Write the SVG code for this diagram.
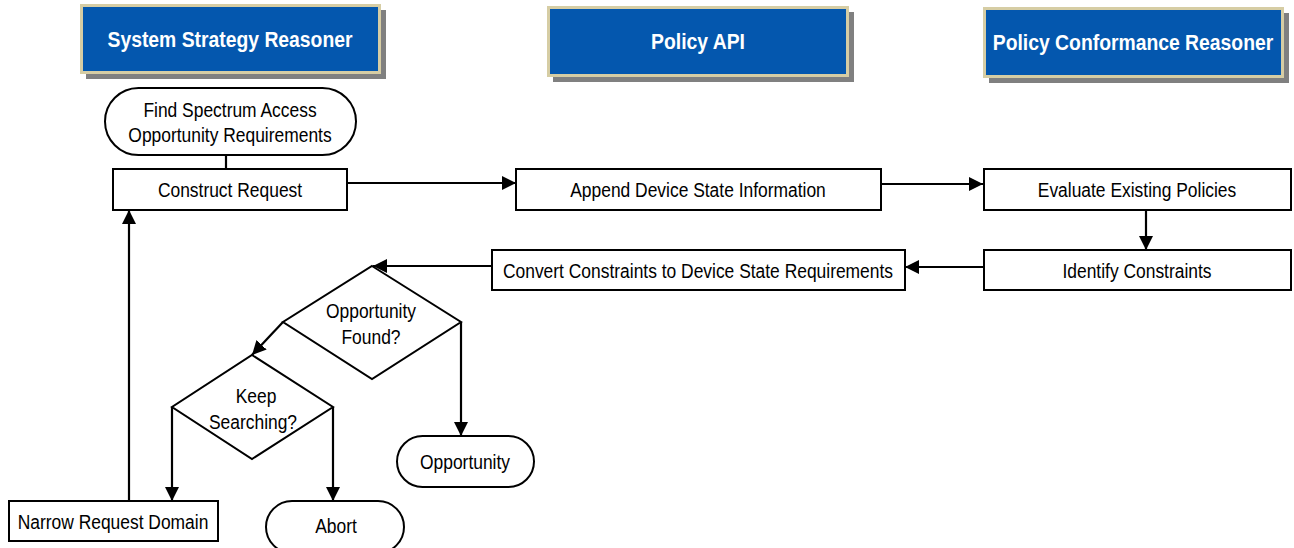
<svg xmlns="http://www.w3.org/2000/svg" width="1294" height="548" viewBox="0 0 1294 548">
<defs>
<marker id="ah" viewBox="0 0 14 14" refX="14" refY="7" markerWidth="14" markerHeight="14" markerUnits="userSpaceOnUse" orient="auto">
<path d="M0,0 L14,7 L0,14 Z" fill="#000"/>
</marker>
</defs>
<style>
.hdr-shadow{fill:#808080}
.hdr{fill:#0457AE;stroke:#D6CDA4;stroke-width:3}
.hdr-t{font-family:"Liberation Sans",Arial,sans-serif;font-weight:bold;font-size:21.5px;fill:#fff;text-anchor:middle}
.box{fill:#fff;stroke:#000;stroke-width:2}
.t{font-family:"Liberation Sans",Arial,sans-serif;font-size:21px;fill:#000;text-anchor:middle}
.c{fill:none;stroke:#000;stroke-width:2.2}
.ca{fill:none;stroke:#000;stroke-width:2.2;marker-end:url(#ah)}
</style>
<rect width="1294" height="548" fill="#fff"/>
<g id="hdr-ssr">
<rect class="hdr-shadow" x="86" y="10" width="300" height="69"/>
<rect class="hdr" x="81.5" y="5.5" width="298" height="67"/>
<text class="hdr-t" transform="translate(230,47) scale(0.9,1)">System Strategy Reasoner</text>
</g>
<g id="hdr-api">
<rect class="hdr-shadow" x="553" y="12" width="301" height="70"/>
<rect class="hdr" x="548.5" y="7.5" width="299" height="68"/>
<text class="hdr-t" transform="translate(698,49) scale(0.9,1)">Policy API</text>
</g>
<g id="hdr-pcr">
<rect class="hdr-shadow" x="989" y="13" width="300" height="70"/>
<rect class="hdr" x="984.5" y="8.5" width="298" height="68"/>
<text class="hdr-t" transform="translate(1133,50) scale(0.9,1)">Policy Conformance Reasoner</text>
</g>
<g id="connectors">
<path class="c" d="M226,155 V169"/>
<path class="ca" d="M347,183 H516"/>
<path class="ca" d="M881,184 H983"/>
<path class="ca" d="M1146,210 V250"/>
<path class="ca" d="M984,267 H905"/>
<path class="ca" d="M492,266 H373"/>
<path class="ca" d="M283,322 L252,355"/>
<path class="ca" d="M461,322 V436"/>
<path class="ca" d="M172,407 V501"/>
<path class="ca" d="M333,407 V501"/>
<path class="ca" d="M129,501 V210"/>
</g>
<g id="start">
<rect class="box" x="105" y="88" width="251" height="67" rx="33.5" ry="33.5"/>
<text class="t" transform="translate(230,117) scale(0.83,1)">Find Spectrum Access</text>
<text class="t" transform="translate(230,142) scale(0.83,1)">Opportunity Requirements</text>
</g>
<g id="construct">
<rect class="box" x="113" y="169" width="234" height="41"/>
<text class="t" transform="translate(230,197) scale(0.83,1)">Construct  Request</text>
</g>
<g id="append">
<rect class="box" x="516" y="169" width="365" height="41"/>
<text class="t" transform="translate(698,197) scale(0.83,1)">Append Device State Information</text>
</g>
<g id="evaluate">
<rect class="box" x="984" y="169" width="307" height="41"/>
<text class="t" transform="translate(1137,197) scale(0.83,1)">Evaluate Existing Policies</text>
</g>
<g id="identify">
<rect class="box" x="984" y="250" width="307" height="40"/>
<text class="t" transform="translate(1137,278) scale(0.83,1)">Identify Constraints</text>
</g>
<g id="convert">
<rect class="box" x="492" y="250" width="413" height="40"/>
<text class="t" transform="translate(698,278) scale(0.83,1)">Convert Constraints to Device State Requirements</text>
</g>
<g id="found">
<path class="box" d="M372,266 L461,322 L372,379 L283,322 Z"/>
<text class="t" transform="translate(371,318) scale(0.83,1)">Opportunity</text>
<text class="t" transform="translate(371,344) scale(0.83,1)">Found?</text>
</g>
<g id="keep">
<path class="box" d="M252,355 L333,407 L252,459 L172,407 Z"/>
<text class="t" transform="translate(256,403) scale(0.83,1)">Keep</text>
<text class="t" transform="translate(253,429) scale(0.83,1)">Searching?</text>
</g>
<g id="opportunity">
<rect class="box" x="397" y="436" width="137" height="51" rx="25.5" ry="25.5"/>
<text class="t" transform="translate(465,469) scale(0.83,1)">Opportunity</text>
</g>
<g id="abort">
<rect class="box" x="266" y="501" width="138" height="52" rx="26" ry="26"/>
<text class="t" transform="translate(336,533) scale(0.83,1)">Abort</text>
</g>
<g id="narrow">
<rect class="box" x="9" y="501" width="209" height="40"/>
<text class="t" transform="translate(113,529) scale(0.83,1)">Narrow Request Domain</text>
</g>
</svg>
